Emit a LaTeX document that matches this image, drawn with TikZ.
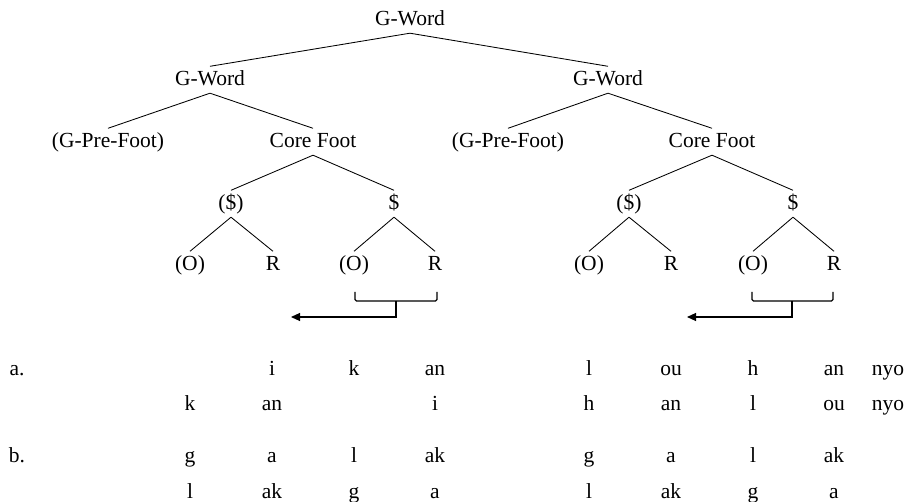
\documentclass[tikz,border=0pt]{standalone}
\usepackage{fontspec}
\setmainfont{Liberation Serif}
\usetikzlibrary{arrows.meta}
\begin{document}
\begin{tikzpicture}[x=1pt,y=-1pt,
  lab/.style={anchor=base, font=\fontsize{21.5}{25}\selectfont,
              text height=12.5pt, text depth=0pt,
              inner xsep=0pt, inner ysep=7pt},
  seg/.style={anchor=base, font=\fontsize{21.5}{25}\selectfont, inner sep=0pt},
  branch/.style={line width=0.85pt},
  brack/.style={line width=1.1pt, rounded corners=1.5pt},
  moveto/.style={line width=1.1pt, -{Triangle[length=9pt,width=8pt]}}]
\useasboundingbox (0,0) rectangle (912,502);

% ---- prosodic tree ----
\node[lab] (top) at (410,26) {G-Word};
\node[lab] (gwL) at (210,86) {G-Word};
\node[lab] (gwR) at (608,86) {G-Word};

\node[lab] (preL) at (108,148) {(G-Pre-Foot)};
\node[lab] (cfL)  at (313,148) {Core Foot};
\node[lab] (preR) at (508,148) {(G-Pre-Foot)};
\node[lab] (cfR)  at (712,148) {Core Foot};

\node[lab] (sL1) at (231,210) {(\$)};
\node[lab] (sL2) at (394,210) {\$};
\node[lab] (sR1) at (629,210) {(\$)};
\node[lab] (sR2) at (793,210) {\$};

\node[lab] (oL1) at (190,271) {(O)};
\node[lab] (rL1) at (273,271) {R};
\node[lab] (oL2) at (354,271) {(O)};
\node[lab] (rL2) at (435,271) {R};
\node[lab] (oR1) at (589,271) {(O)};
\node[lab] (rR1) at (671,271) {R};
\node[lab] (oR2) at (753,271) {(O)};
\node[lab] (rR2) at (834,271) {R};

\foreach \p/\c in {top/gwL, top/gwR,
                   gwL/preL, gwL/cfL, gwR/preR, gwR/cfR,
                   cfL/sL1, cfL/sL2, cfR/sR1, cfR/sR2,
                   sL1/oL1, sL1/rL1, sL2/oL2, sL2/rL2,
                   sR1/oR1, sR1/rR1, sR2/oR2, sR2/rR2}
  \draw[branch] (\p.south) -- (\c.north);

% ---- brackets with leftward movement arrows ----
\coordinate (bkLa) at (355,292);
\coordinate (bkLb) at (437,292);
\coordinate (bkLm) at (396,301);
\coordinate (bkLd) at (396,317);
\coordinate (tipL) at (291,317);
\draw[brack] (bkLa) |- (bkLm) -| (bkLb);
\draw[moveto] (bkLm) -- (bkLd) -- (tipL);

\coordinate (bkRa) at (752,292);
\coordinate (bkRb) at (833,292);
\coordinate (bkRm) at (792,301);
\coordinate (bkRd) at (792,317);
\coordinate (tipR) at (687,317);
\draw[brack] (bkRa) |- (bkRm) -| (bkRb);
\draw[moveto] (bkRm) -- (bkRd) -- (tipR);

% ---- example rows ----
\node[seg] (lblA) at (17,375) {a.};
\node[seg] (lblB) at (17,462) {b.};

\foreach \x/\t [count=\n] in {272/i, 354/k, 435/an, 589/l, 671/ou, 753/h, 834/an, 888/nyo}
  \node[seg] (rowAa\n) at (\x,375) {\t};
\foreach \x/\t [count=\n] in {190/k, 272/an, 435/i, 589/h, 671/an, 753/l, 834/ou, 888/nyo}
  \node[seg] (rowAb\n) at (\x,410) {\t};
\foreach \x/\t [count=\n] in {190/g, 272/a, 354/l, 435/ak, 589/g, 671/a, 753/l, 834/ak}
  \node[seg] (rowBa\n) at (\x,462) {\t};
\foreach \x/\t [count=\n] in {190/l, 272/ak, 354/g, 435/a, 589/l, 671/ak, 753/g, 834/a}
  \node[seg] (rowBb\n) at (\x,498) {\t};
\end{tikzpicture}
\end{document}
